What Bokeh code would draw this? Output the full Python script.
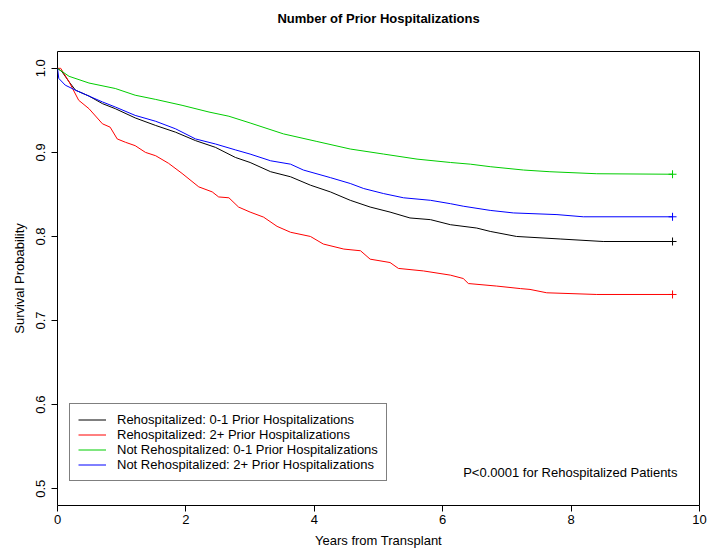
from bokeh.plotting import figure
from bokeh.models import (Range1d, FixedTicker, Legend, LegendItem, Label,
                          LinearAxis, PrintfTickFormatter)
from bokeh.embed import file_html
from bokeh.resources import INLINE

# ---------------- data ----------------
title_text = "Number of Prior Hospitalizations"
x_label = "Years from Transplant"
y_label = "Survival Probability"
p_text = "P<0.0001 for Rehospitalized Patients"

x_ticks = [0, 2, 4, 6, 8, 10]
y_ticks = [0.5, 0.6, 0.7, 0.8, 0.9, 1.0]

names = [
    "Rehospitalized: 0-1 Prior Hospitalizations",
    "Rehospitalized: 2+ Prior Hospitalizations",
    "Not Rehospitalized: 0-1 Prior Hospitalizations",
    "Not Rehospitalized: 2+ Prior Hospitalizations",
]
colors = ["#000000", "#FF0000", "#00CD00", "#0000FF"]

rehosp_01_t = [0, 0.07, 0.18, 0.28, 0.49, 0.70, 0.90, 1.21, 1.53, 1.84, 2.15,
               2.46, 2.77, 3.0, 3.32, 3.63, 3.94, 4.25, 4.56, 4.87, 5.18, 5.49,
               5.81, 6.12, 6.53, 6.74, 7.15, 7.83, 8.50, 9.58]
rehosp_01_s = [1.0, 0.996, 0.984, 0.974, 0.967, 0.958, 0.952, 0.941, 0.932,
               0.924, 0.914, 0.906, 0.894, 0.888, 0.877, 0.871, 0.861, 0.853,
               0.843, 0.835, 0.829, 0.822, 0.820, 0.814, 0.810, 0.806, 0.800,
               0.797, 0.794, 0.794]

rehosp_2p_t = [0, 0.05, 0.18, 0.33, 0.49, 0.70, 0.82, 0.93, 1.06, 1.21, 1.37,
               1.53, 1.73, 1.94, 2.20, 2.41, 2.51, 2.67, 2.82, 3.0, 3.21, 3.42,
               3.63, 3.94, 4.14, 4.46, 4.72, 4.87, 5.18, 5.31, 5.70, 6.12, 6.32,
               6.40, 6.84, 7.21, 7.36, 7.62, 8.40, 9.58]
rehosp_2p_s = [1.0, 1.0, 0.984, 0.962, 0.952, 0.934, 0.930, 0.916, 0.912,
               0.908, 0.900, 0.896, 0.887, 0.875, 0.859, 0.853, 0.847, 0.846,
               0.835, 0.829, 0.823, 0.812, 0.805, 0.800, 0.791, 0.785, 0.783,
               0.773, 0.769, 0.762, 0.759, 0.754, 0.750, 0.744, 0.741, 0.738,
               0.737, 0.733, 0.731, 0.731]

notrehosp_01_t = [0, 0.18, 0.49, 0.90, 1.21, 1.53, 1.94, 2.36, 2.67, 3.0,
                  3.52, 4.04, 4.56, 5.08, 5.60, 6.12, 6.43, 6.74, 7.26, 7.67,
                  8.40, 9.58]
notrehosp_01_s = [1.0, 0.9905, 0.9825, 0.976, 0.968, 0.963, 0.956, 0.948,
                  0.943, 0.935, 0.922, 0.913, 0.904, 0.898, 0.892, 0.888,
                  0.886, 0.883, 0.879, 0.877, 0.8746, 0.874]

notrehosp_2p_t = [0, 0.02, 0.12, 0.28, 0.49, 0.70, 0.90, 1.21, 1.53, 1.84,
                  2.15, 2.46, 2.77, 3.0, 3.32, 3.63, 3.83, 4.25, 4.56, 4.77,
                  5.08, 5.39, 5.81, 6.12, 6.32, 6.74, 7.10, 7.78, 8.19, 9.58]
notrehosp_2p_s = [1.0, 0.988, 0.980, 0.974, 0.967, 0.960, 0.954, 0.944, 0.937,
                  0.928, 0.916, 0.910, 0.903, 0.898, 0.890, 0.886, 0.879, 0.870,
                  0.863, 0.857, 0.851, 0.846, 0.843, 0.839, 0.836, 0.831, 0.828,
                  0.826, 0.8234, 0.8234]

series_t = [rehosp_01_t, rehosp_2p_t, notrehosp_01_t, notrehosp_2p_t]
series_s = [rehosp_01_s, rehosp_2p_s, notrehosp_01_s, notrehosp_2p_s]

# ---------------- figure ----------------
FONT = "Liberation Sans"
FS = "13px"

p = figure(width=707, height=554, output_backend="svg", toolbar_location=None,
           x_range=Range1d(0, 10), y_range=Range1d(0.48, 1.02),
           min_border_left=57, min_border_right=8, min_border_top=51,
           min_border_bottom=49)
p.background_fill_color = "white"
p.border_fill_color = "white"
p.outline_line_color = "black"
p.outline_line_width = 1
p.outline_line_alpha = 1.0
p.xgrid.visible = False
p.ygrid.visible = False

xax = p.below[0]
yax = p.left[0]

for ax in (xax, yax):
    ax.axis_line_color = None
    ax.major_tick_out = 6
    ax.major_tick_in = 0
    ax.minor_tick_out = 0
    ax.minor_tick_in = 0
    ax.major_tick_line_color = "black"
    ax.major_label_text_font = FONT
    ax.major_label_text_font_size = FS
    ax.major_label_text_color = "black"
    ax.axis_label_text_font = FONT
    ax.axis_label_text_font_size = FS
    ax.axis_label_text_font_style = "normal"
    ax.axis_label_text_color = "black"

xax.ticker = FixedTicker(ticks=x_ticks)
yax.ticker = FixedTicker(ticks=y_ticks)
yax.formatter = PrintfTickFormatter(format="%.1f")
xax.formatter = PrintfTickFormatter(format="%d")
yax.major_label_orientation = "vertical"
xax.major_label_standoff = 3
yax.major_label_standoff = 6
xax.axis_label = x_label
yax.axis_label = y_label
xax.axis_label_standoff = 6
yax.axis_label_standoff = 7

# title drawn as the label of a bare axis above the frame, so that it can sit
# as high above the box as in the reference
title_axis = LinearAxis(ticker=FixedTicker(ticks=[]), axis_label=title_text)
title_axis.axis_line_color = None
title_axis.major_tick_line_color = None
title_axis.minor_tick_line_color = None
title_axis.major_tick_out = 0
title_axis.major_tick_in = 0
title_axis.minor_tick_out = 0
title_axis.minor_tick_in = 0
title_axis.major_label_standoff = 0
title_axis.major_label_text_font_size = "0px"
title_axis.axis_label_standoff = 26
title_axis.axis_label_text_font = FONT
title_axis.axis_label_text_font_size = FS
title_axis.axis_label_text_font_style = "bold"
title_axis.axis_label_text_color = "black"
p.add_layout(title_axis, "above")

items = []
for name, col, t, s in zip(names, colors, series_t, series_s):
    r = p.line(t, s, line_color=col, line_width=1)
    p.scatter([t[-1]], [s[-1]], marker="cross", size=8, line_color=col,
              line_width=1)
    items.append(LegendItem(label=name, renderers=[r]))

legend = Legend(items=items, location=(12, 24))
legend.border_line_color = "black"
legend.border_line_width = 1
legend.background_fill_color = "white"
legend.background_fill_alpha = 1.0
legend.label_text_font = FONT
legend.label_text_font_size = FS
legend.label_text_color = "black"
legend.padding = 8
legend.spacing = 0
legend.margin = 0
legend.glyph_width = 28
legend.glyph_height = 15
legend.label_height = 15
legend.label_standoff = 11
p.add_layout(legend, "center")

pval = Label(x=9.657, y=0.519, text=p_text, text_align="right",
             text_baseline="middle", text_font=FONT, text_font_size=FS,
             text_color="black")
p.add_layout(pval)

open("out.html", "w").write(file_html(p, INLINE))
